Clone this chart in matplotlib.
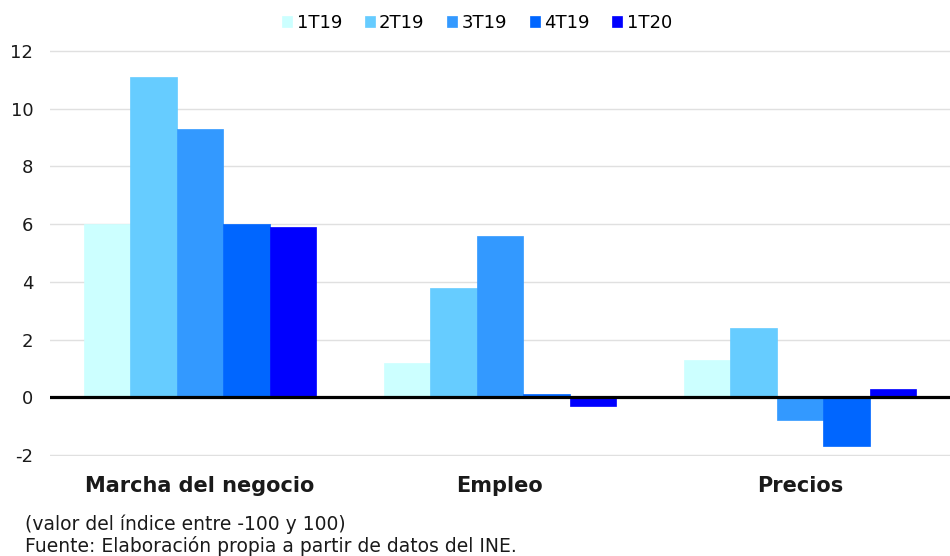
import matplotlib
matplotlib.use("Agg")
import matplotlib.pyplot as plt
import numpy as np

categories = ["Marcha del negocio", "Empleo", "Precios"]
series = ["1T19", "2T19", "3T19", "4T19", "1T20"]
v_1T19 = [6.0, 1.2, 1.3]
v_2T19 = [11.1, 3.8, 2.4]
v_3T19 = [9.3, 5.6, -0.8]
v_4T19 = [6.0, 0.1, -1.7]
v_1T20 = [5.9, -0.3, 0.3]
colors = ["#CCFFFF", "#66CCFF", "#3399FF", "#0066FF", "#0000FF"]
yticks = [-2, 0, 2, 4, 6, 8, 10, 12]

values = [v_1T19, v_2T19, v_3T19, v_4T19, v_1T20]

FAM = ["DejaVu Sans"]
plt.rcParams['font.family'] = FAM
plt.rcParams['font.sans-serif'] = FAM
fig = plt.figure(figsize=(9.5, 5.56), dpi=100)
# y=12 at px 51, y=-2 at px 455; extend slightly so edge gridlines are visible
ppu = (455 - 51) / 14.0
ylo, yhi = -2.05, 12.05
top_px = 51 - 0.05 * ppu
bot_px = 455 + 0.05 * ppu
ax = fig.add_axes([50/950, 1 - bot_px/556, 900/950, (bot_px - top_px)/556])

x = np.arange(len(categories))
w = 0.155
for i, (name, vals, c) in enumerate(zip(series, values, colors)):
    ax.bar(x + (i - 2) * w, vals, width=w, color=c, label=name, zorder=2,
           edgecolor=c, linewidth=0.5)

ax.set_xlim(-0.5, 2.5)
ax.set_ylim(ylo, yhi)
ax.set_yticks(yticks)
ax.set_yticklabels([str(t) for t in yticks], fontsize=13, color="#1a1a1a", family=FAM)
ax.set_xticks(x)
ax.set_xticklabels(categories, fontsize=15, fontweight="bold", color="#1a1a1a", family=FAM)
ax.tick_params(axis="y", length=0, pad=12)
ax.tick_params(axis="x", length=0, pad=14)
ax.grid(axis="y", color="#e0e0e0", linewidth=1, zorder=0)
ax.set_axisbelow(True)
for s in ax.spines.values():
    s.set_visible(False)
ax.axhline(0, color="black", linewidth=2.3, zorder=3)

leg = fig.legend(loc="center", bbox_to_anchor=(477/950, 1 - 23/556), ncol=5,
                 frameon=False, prop={"family": FAM, "size": 13},
                 handlelength=0.55, handleheight=0.55,
                 handletextpad=0.25, columnspacing=1.25)

fig.text(25/950, 1 - 524/556, "(valor del índice entre -100 y 100)", fontsize=13.5,
         va="center", ha="left", color="#1a1a1a", family=FAM)
fig.text(25/950, 1 - 546/556, "Fuente: Elaboración propia a partir de datos del INE.",
         fontsize=13.5, va="center", ha="left", color="#1a1a1a", family=FAM)

fig.savefig("out.png", dpi=100)
